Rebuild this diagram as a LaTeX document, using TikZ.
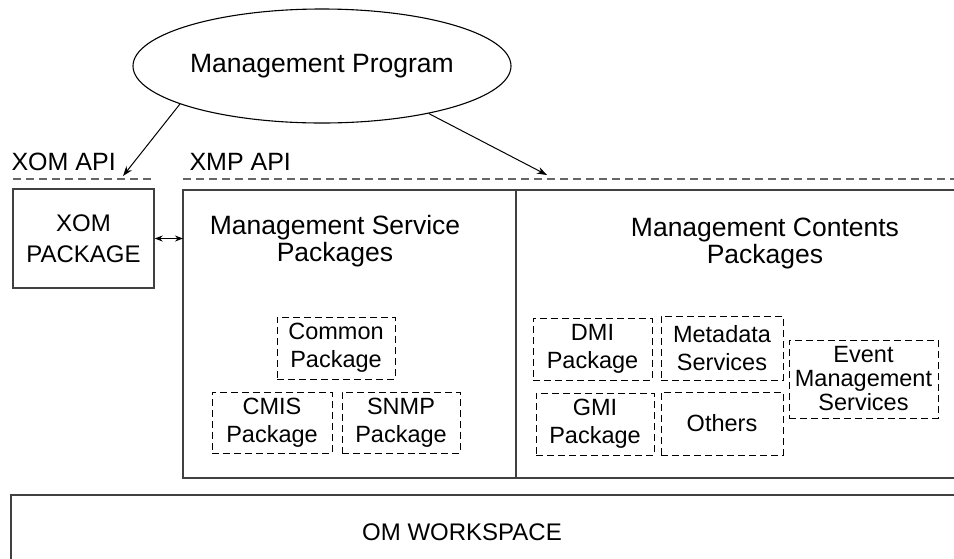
\documentclass[tikz,border=0pt]{standalone}
\usepackage{fontspec}
\setmainfont{Liberation Sans}
\usetikzlibrary{shapes.geometric,arrows.meta}

\tikzset{
  frame/.style={draw=black!75,line width=1.4pt},
  api/.style={draw=black!60,line width=1.6pt,dash pattern=on 8pt off 5pt},
  pkg/.style={draw,line width=0.9pt,dash pattern=on 7pt off 4pt,align=center,inner sep=0pt,
    font=\fontsize{23.5}{28}\selectfont},
  title/.style={align=center,font=\fontsize{26.5}{27}\selectfont},
  link/.style={-{Stealth[length=10pt,width=7pt]},line width=1pt}
}

\begin{document}
\begin{tikzpicture}[x=1pt,y=-1pt,font=\fontsize{24}{28}\selectfont]
\useasboundingbox (0,0) rectangle (954,558);

\node[ellipse,draw,line width=1.1pt,minimum width=378pt,minimum height=114pt,inner sep=0pt,font=\fontsize{26.5}{28}\selectfont] (prog) at (322,66) {Management Program};

% API levels
\node[anchor=west,font=\fontsize{25}{28}\selectfont] (xomapi) at (8,162) {XOM API};
\node[anchor=west,font=\fontsize{25}{28}\selectfont] (xmpapi) at (186,162) {XMP API};
\draw[api] (13,179) -- (153,179);
\draw[api] (183,179) -- (954,179);
\coordinate (xomtip) at (123,176);
\coordinate (xmptip) at (547,175);
\draw[link] (prog.195) -- (xomtip);
\draw[link] (prog.336) -- (xmptip);

\node[frame,align=center,minimum width=141pt,minimum height=99pt,inner sep=0pt,font=\fontsize{24}{31}\selectfont] (xom) at (83.5,238.5) {XOM\\PACKAGE};
\draw[frame] (954,190) -- (183,190) -- (183,478) -- (954,478);
\draw[frame] (516,190) -- (516,478);
\coordinate (svcedge) at (183,238.5);
\draw[{Stealth[length=8pt,width=6pt]}-{Stealth[length=8pt,width=6pt]},line width=1pt] (xom.east) -- (svcedge);

\node[title] (svctitle) at (335,241) {Management Service\\Packages};
\node[title] (cnttitle) at (765,243) {Management Contents\\Packages};

\node[pkg,minimum width=118pt,minimum height=62pt] (common) at (336,348) {Common\\Package};
\node[pkg,minimum width=120pt,minimum height=61pt] (cmis) at (272,422.5) {CMIS\\Package};
\node[pkg,minimum width=118pt,minimum height=61pt] (snmp) at (401,422.5) {SNMP\\Package};

\node[pkg,minimum width=119pt,minimum height=62pt] (dmi) at (592.5,349) {DMI\\Package};
\node[pkg,minimum width=122pt,minimum height=64pt] (meta) at (722,348) {Metadata\\Services};
\node[pkg,minimum width=149pt,minimum height=78pt,font=\fontsize{23.5}{24}\selectfont] (event) at (863.5,379) {Event\\Management\\Services};
\node[pkg,minimum width=118pt,minimum height=62pt] (gmi) at (595,424) {GMI\\Package};
\node[pkg,minimum width=122pt,minimum height=63pt] (others) at (722,423.5) {Others};

\draw[frame] (954,495) -- (11,495) -- (11,570);
\node (omws) at (462,532) {OM WORKSPACE};
\end{tikzpicture}
\end{document}
